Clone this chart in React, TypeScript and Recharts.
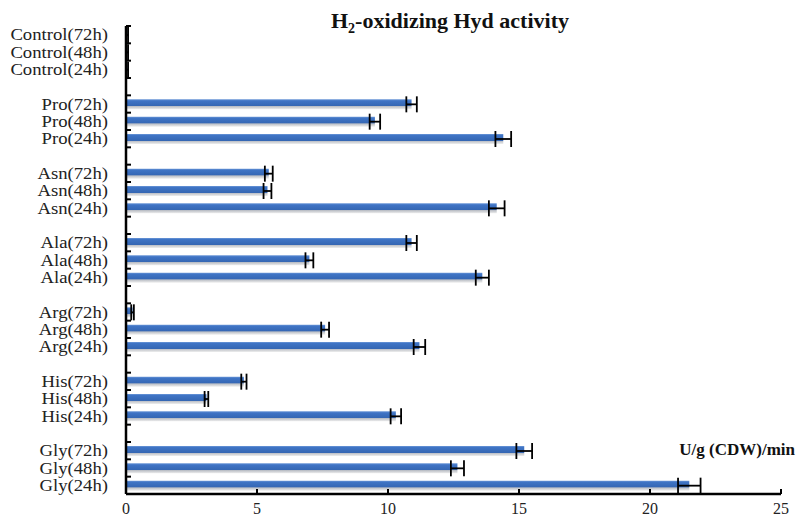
import { BarChart, Bar, XAxis, YAxis, ErrorBar } from 'recharts';

const categories = [
  'Control(72h)', 'Control(48h)', 'Control(24h)', 'gap1',
  'Pro(72h)', 'Pro(48h)', 'Pro(24h)', 'gap2',
  'Asn(72h)', 'Asn(48h)', 'Asn(24h)', 'gap3',
  'Ala(72h)', 'Ala(48h)', 'Ala(24h)', 'gap4',
  'Arg(72h)', 'Arg(48h)', 'Arg(24h)', 'gap5',
  'His(72h)', 'His(48h)', 'His(24h)', 'gap6',
  'Gly(72h)', 'Gly(48h)', 'Gly(24h)',
];

const activity = [
  0.05, 0.05, 0.05, null,
  10.9, 9.5, 14.4, null,
  5.45, 5.4, 14.15, null,
  10.9, 7.0, 13.6, null,
  0.25, 7.6, 11.2, null,
  4.5, 3.07, 10.3, null,
  15.2, 12.65, 21.5,
];

const errors = [
  0.03, 0.03, 0.03, null,
  0.2, 0.2, 0.3, null,
  0.15, 0.15, 0.3, null,
  0.2, 0.15, 0.25, null,
  0.05, 0.15, 0.22, null,
  0.1, 0.07, 0.2, null,
  0.3, 0.25, 0.43,
];

const xTicks = [0, 5, 10, 15, 20, 25];

const data = categories.map((name, i) => ({ name, value: activity[i], err: errors[i] }));

const W = 798;
const H = 521;
const TOP = 26;
const BOTTOM = 27;
const BAND = (H - TOP - BOTTOM) / categories.length;
const SERIF = "'Liberation Serif', 'Times New Roman', serif";

function YTick(props: any) {
  const { x, y, payload } = props;
  const label: string = payload.value;
  return (
    <g>
      <line x1={x} x2={x + 5} y1={y - BAND / 2} y2={y - BAND / 2} stroke="#000" strokeWidth={2} />
      {!label.startsWith('gap') && (
        <text transform={`translate(${x - 18},${y + 5.5}) scale(1.1,1)`} textAnchor="end"
          fontSize={17} fill="#222" fontFamily={SERIF}>
          {label}
        </text>
      )}
    </g>
  );
}

function XTick(props: any) {
  const { x, y, payload } = props;
  return (
    <g>
      <line x1={x} x2={x} y1={y} y2={y - 5} stroke="#000" strokeWidth={2} />
      <text x={x} y={y + 20} textAnchor="middle" fontSize={16} fill="#222" fontFamily={SERIF}>
        {payload.value}
      </text>
    </g>
  );
}

export default function App() {
  return (
    <div style={{ position: 'absolute', left: 0, top: 0, background: '#fff' }}>
      <BarChart
        width={W}
        height={H}
        data={data}
        layout="vertical"
        margin={{ top: TOP, right: 17, bottom: 0, left: 0 }}
      >
        <defs>
          <linearGradient id="barFill" x1="0" y1="0" x2="0" y2="1">
            <stop offset="0" stopColor="#6d98d8" />
            <stop offset="0.15" stopColor="#3f74c5" />
            <stop offset="0.65" stopColor="#3567b4" />
            <stop offset="0.7" stopColor="#b9bdc4" />
            <stop offset="1" stopColor="#eeeeee" />
          </linearGradient>
        </defs>
        <text x={450} y={28} textAnchor="middle" fontSize={22} fontWeight="bold" fill="#111" fontFamily={SERIF}>
          H<tspan fontSize={14} dy={5}>2</tspan><tspan dy={-5}>-oxidizing Hyd activity</tspan>
        </text>
        <text x={795} y={455} textAnchor="end" fontSize={17} fontWeight="bold" fill="#111" fontFamily={SERIF}>
          U/g (CDW)/min
        </text>
        <XAxis
          type="number"
          domain={[0, 25]}
          ticks={xTicks}
          height={BOTTOM}
          tickSize={0}
          tickMargin={0}
          tickLine={false}
          tick={<XTick />}
          axisLine={{ stroke: '#000', strokeWidth: 2.5 }}
          interval={0}
        />
        <YAxis
          type="category"
          dataKey="name"
          width={126}
          tickSize={0}
          tickMargin={0}
          tickLine={false}
          tick={<YTick />}
          axisLine={{ stroke: '#000', strokeWidth: 2.5 }}
          interval={0}
        />
        <Bar dataKey="value" fill="url(#barFill)" barSize={10} isAnimationActive={false}>
          <ErrorBar dataKey="err" direction="x" width={8} stroke="#000" strokeWidth={1.8} />
        </Bar>
      </BarChart>
    </div>
  );
}
